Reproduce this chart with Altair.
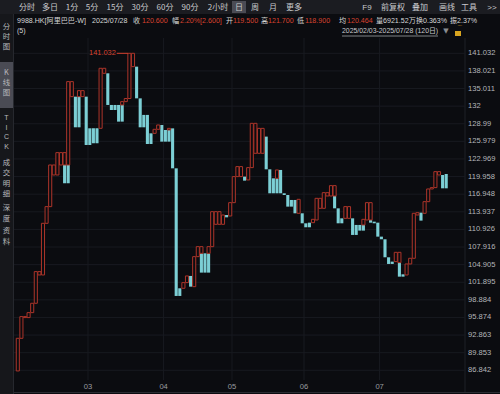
import altair as alt
import pandas as pd

BG = "#0b0c10"
RED = "#ad352a"
RED_TXT = "#d8422f"
CYAN = "#7ccfd5"
GRID = "#181a20"
FONT = "Liberation Sans, Noto Sans CJK SC"
CJK = "Noto Sans CJK SC"

# ---- tower-line bars (price ranges per trading day, 2025/02/03 - 2025/07/28) ----
lo = [86.73, 92.31, 95.85, 95.85, 96.70, 98.30, 103.14, 103.14, 111.97, 114.82,
      120.23, 120.23, 121.94, 118.81, 121.94, 133.62, 128.38, 133.62, 133.62, 125.36,
      125.36, 125.65, 125.65, 128.21, 137.61, 132.20, 131.34, 131.34, 129.35, 132.20,
      132.77, 133.30, 138.75, 133.33, 128.38, 128.38, 125.53, 125.53, 127.35, 128.04,
      125.93, 125.93, 127.92, 121.37, 99.55, 99.55, 100.86, 101.83, 101.14, 101.14,
      106.27, 106.84, 103.54, 103.54, 107.98, 111.80, 111.80, 111.80, 112.99, 113.22,
      115.50, 119.95, 119.95, 119.26, 119.38, 121.49, 123.94, 123.94, 123.94, 121.20,
      117.10, 117.10, 119.66, 117.10, 116.81, 114.82, 114.82, 113.68, 113.68, 111.97,
      111.29, 111.29, 112.08, 112.54, 114.53, 114.53, 116.64, 116.64, 116.64, 111.97,
      111.97, 112.82, 112.82, 109.98, 109.98, 110.72, 111.69, 112.54, 112.54, 111.97,
      109.69, 109.24, 106.16, 105.02, 105.02, 105.42, 105.25, 102.85, 103.14, 105.02,
      105.99, 113.39, 112.43, 113.68, 115.67, 117.84, 118.07, 120.23, 117.95, 117.95]
hi = [92.31, 96.02, 96.02, 96.70, 98.30, 103.71, 103.71, 111.97, 114.82, 121.94,
      121.94, 124.05, 124.05, 121.94, 136.19, 136.19, 133.62, 134.65, 134.65, 133.62,
      128.21, 128.21, 128.21, 138.47, 138.47, 137.61, 132.20, 132.20, 132.20, 132.77,
      133.30, 141.03, 141.03, 138.75, 133.33, 130.50, 130.50, 127.35, 128.04, 128.78,
      128.78, 127.92, 128.20, 128.20, 121.37, 100.86, 101.83, 102.97, 102.97, 106.27,
      107.98, 107.98, 106.84, 106.84, 113.96, 113.96, 113.96, 113.39, 113.39, 115.50,
      119.95, 121.66, 121.66, 119.95, 121.49, 129.06, 129.06, 128.20, 128.20, 126.79,
      121.20, 119.66, 121.09, 121.09, 117.10, 116.81, 115.96, 115.96, 116.07, 113.68,
      111.97, 112.08, 112.65, 116.24, 116.24, 117.21, 117.21, 118.41, 118.41, 114.53,
      112.82, 114.82, 114.82, 112.82, 111.69, 111.69, 112.65, 115.50, 115.50, 112.25,
      112.08, 109.69, 109.24, 106.16, 105.42, 107.01, 107.01, 103.25, 105.02, 105.99,
      113.68, 113.79, 113.79, 115.67, 117.84, 118.07, 120.80, 120.80, 120.23, 120.40]
col = list("rrrrrrrrrr" "rrrcrrcrrc" "cccrrccccr" "rrrcccccrr" "ccrcccrrcr" "rrccrrrrcr"
           "rrrcrrrrrc" "ccrcccccrc" "ccrrrrrrrc" "crrcccrrrc" "cccccrrcrr" "rrcrrrrrcc")
# other part of the turning bars
split_bar = [13, 14, 17, 29, 42, 51, 53, 72, 88, 96, 98, 106]
split_lo = [121.94, 118.81, 128.38, 129.35, 125.93, 103.54, 106.84, 117.10, 114.53, 110.72, 112.08, 102.85]
split_hi = [124.05, 121.94, 133.62, 132.20, 127.92, 106.84, 107.98, 119.66, 116.64, 111.69, 112.54, 105.25]
split_col = ["r", "c", "c", "c", "c", "c", "r", "c", "c", "c", "c", "c"]

y_ticks = [141.032, 138.021, 135.011, 132, 128.99, 125.979, 122.969, 119.958, 116.948,
           113.937, 110.926, 107.916, 104.905, 101.895, 98.884, 95.874, 92.863, 89.853, 86.842]
month_idx = [20, 41, 60, 80, 101]
month_lbl = ["03", "04", "05", "06", "07"]
max_idx = [31]
max_val = [141.032]

segs = pd.DataFrame({
    "i": list(range(len(lo))) + split_bar,
    "lo": lo + split_lo,
    "hi": hi + split_hi,
    "col": col + split_col,
})

xs = alt.Scale(domain=[-4.444, 134.444], nice=False, zero=False)
ys = alt.Scale(domain=[82.79, 150.143], nice=False, zero=False)

one = pd.DataFrame({"a": [0]})


def box(x1, x2, y1, y2, color):
    return alt.Chart(one).mark_rect(color=color).encode(
        x=alt.value(x1), x2=alt.value(x2), y=alt.value(y1), y2=alt.value(y2))


def hline(x1, x2, y, color, w=1):
    return alt.Chart(one).mark_rule(color=color, strokeWidth=w).encode(
        x=alt.value(x1), x2=alt.value(x2), y=alt.value(y))


def vline(x, y1, y2, color, w=1):
    return alt.Chart(one).mark_rule(color=color, strokeWidth=w).encode(
        x=alt.value(x), y=alt.value(y1), y2=alt.value(y2))


def txt(s, x, y, color="#c8c8c8", size=9, align="left", font=FONT):
    return alt.Chart(one).mark_text(text=s, align=align, baseline="middle",
                                    fontSize=size, color=color, font=font).encode(
        x=alt.value(x), y=alt.value(y))


layers = []
# chrome backgrounds
layers.append(box(0, 500, 0, 14, "#1b1c21"))
layers.append(box(0, 13, 14, 394, "#16171b"))
layers.append(box(0, 13, 62, 108, "#4a4b54"))
layers.append(box(232, 246, 1, 13, "#4a4b54"))
layers.append(vline(13.5, 14, 394, "#26282e"))
layers.append(vline(465, 38, 392, "#1f2127"))
layers.append(hline(14, 500, 392.5, "#2a2c32"))

# grid
grid_h = alt.Chart(pd.DataFrame({"v": y_ticks})).mark_rule(color=GRID, strokeWidth=1).encode(
    y=alt.Y("v:Q", scale=ys, axis=None), x=alt.value(14), x2=alt.value(465))
grid_v = alt.Chart(pd.DataFrame({"i": month_idx})).mark_rule(color=GRID, strokeWidth=1).encode(
    x=alt.X("i:Q", scale=xs, axis=None), y=alt.value(38), y2=alt.value(380))
layers += [grid_h, grid_v]

base = alt.Chart(segs).transform_calculate(x0="datum.i + 0.07", x1="datum.i + 0.93")
enc = dict(x=alt.X("x0:Q", scale=xs, axis=None), x2="x1:Q",
           y=alt.Y("lo:Q", scale=ys, axis=None), y2="hi:Q")
cyan_bars = base.transform_filter("datum.col == 'c'").mark_rect(fill=CYAN).encode(**enc)
red_bars = base.transform_filter("datum.col == 'r'").mark_rect(
    fill=BG, stroke=RED, strokeWidth=1).encode(**enc)
layers += [cyan_bars, red_bars]

# right price labels
ylab = alt.Chart(pd.DataFrame({"v": y_ticks})).mark_text(
    align="left", baseline="middle", fontSize=7.6, color="#b4b6ba", font=FONT).encode(
    x=alt.value(468), y=alt.Y("v:Q", scale=ys, axis=None),
    text=alt.Text("v:Q", format=".3~f"))
# month labels
xlab = alt.Chart(pd.DataFrame({"i": month_idx, "t": month_lbl})).mark_text(
    align="center", baseline="middle", fontSize=7.6, color="#9a9ca0", font=FONT).encode(
    x=alt.X("i:Q", scale=xs, axis=None), y=alt.value(386.5), text="t:N")
layers += [ylab, xlab]

# max marker
mx = alt.Chart(pd.DataFrame({"i": max_idx, "v": max_val})).transform_calculate(
    s="datum.i - 3", e="datum.i + 0.1")
layers.append(mx.mark_rule(color=RED_TXT, strokeWidth=1).encode(
    x=alt.X("s:Q", scale=xs, axis=None), x2="e:Q", y=alt.Y("v:Q", scale=ys, axis=None)))
layers.append(mx.mark_text(align="right", baseline="middle", dx=-1, fontSize=7.4,
                           color=RED_TXT, font=FONT).encode(
    x=alt.X("s:Q", scale=xs, axis=None), y=alt.Y("v:Q", scale=ys, axis=None),
    text=alt.Text("v:Q", format=".3f")))

# toolbar
for s, x in [("分时", 27), ("多日", 50), ("1分", 72), ("5分", 92), ("15分", 115), ("30分", 140),
             ("60分", 165), ("90分", 190), ("2小时", 218), ("日", 239), ("周", 255), ("月", 273),
             ("更多", 294), ("F9", 367), ("前复权", 393), ("叠加", 420), ("画线", 447),
             ("工具", 469), (">>", 492)]:
    layers.append(txt(s, x, 7.5, "#c9cacd", 8, "center", CJK if s not in ("F9", ">>") else FONT))

# info row
info = [("9988.HK[阿里巴巴-W]", 17, "#d6d6d6"), ("2025/07/28", 92, "#d6d6d6"),
        ("收", 133, "#d6d6d6"), ("120.600", 142, RED_TXT), ("幅", 172, "#d6d6d6"),
        ("2.20%[2.600]", 180, RED_TXT), ("开", 226, "#d6d6d6"), ("119.500", 233, RED_TXT),
        ("高", 261, "#d6d6d6"), ("121.700", 268, RED_TXT), ("低", 297, "#d6d6d6"),
        ("118.900", 305, RED_TXT), ("均", 339, "#d6d6d6"), ("120.464", 347, RED_TXT),
        ("量", 376, "#d6d6d6"), ("6921.52万", 383, "#d6d6d6"), ("换", 416, "#d6d6d6"),
        ("0.363%", 423, "#d6d6d6"), ("振", 450, "#d6d6d6"), ("2.37%", 457, "#d6d6d6")]
for s, x, c in info:
    layers.append(txt(s, x, 20.5, c, 7.1, "left"))

layers.append(txt("(5)", 17, 31, "#d6d6d6", 7.1))
layers.append(txt("2025/02/03-2025/07/28 (120日)", 342, 31, "#c9cacd", 6.9))
layers.append(hline(342, 438, 36, "#a0a2a6", 0.8))
layers.append(txt("▼", 446, 31, "#8a8c90", 7, "center", "DejaVu Sans"))
layers.append(box(455, 461, 31, 36, "#d9a520"))
layers.append(txt("⌒", 460, 28, "#d9a520", 6, "center", "DejaVu Sans"))

# sidebar
side = [("分", 27), ("时", 37), ("图", 47), ("K", 73), ("线", 83), ("图", 93),
        ("成", 163), ("交", 173), ("明", 184), ("细", 194),
        ("深", 208), ("度", 219), ("资", 231), ("料", 242)]
for s, y in side:
    layers.append(txt(s, 6.5, y, "#b8b9bd", 7.4, "center", CJK))
for s, y in [("T", 118), ("I", 127.5), ("C", 137), ("K", 146.5)]:
    layers.append(txt(s, 6.5, y, "#b8b9bd", 7, "center", "Liberation Sans"))

chart = alt.layer(*layers).properties(
    width=500, height=394, autosize=alt.AutoSizeParams(type="none"), padding=0
).configure(background=BG).configure_view(stroke=None)

chart.save("out.html", embed_options={"renderer": "svg", "actions": False})
